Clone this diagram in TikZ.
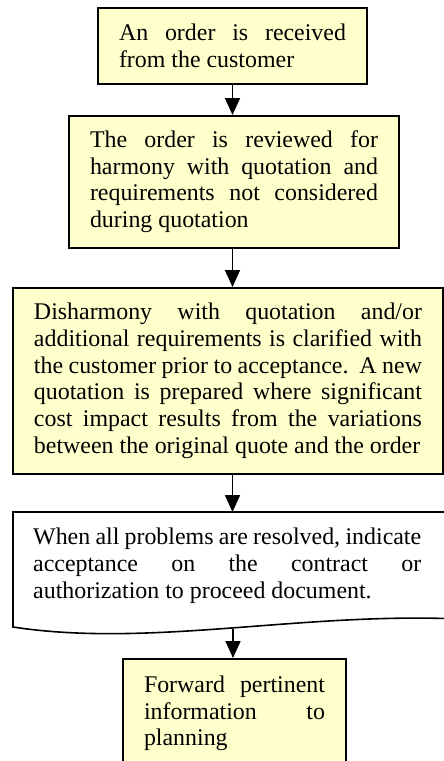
\documentclass[tikz,border=0pt]{standalone}
\usepackage{fontspec}
\setmainfont{Liberation Serif}
\usetikzlibrary{arrows.meta}
\definecolor{boxfill}{HTML}{FFFFCC}

\tolerance=10000
\hyphenpenalty=10000

\tikzset{
  flowtext/.style={align=justify, font=\fontsize{23.9}{26.7}\selectfont,
    inner xsep=21pt},
  flowbox/.style={flowtext, draw=black, line width=1.6pt, fill=boxfill,
    inner ysep=0pt, anchor=north},
  flowarrow/.style={line width=1.8pt, -{Triangle[width=15pt,length=17pt]}},
  docline/.style={draw=black, line width=1.6pt, fill=white}
}

\begin{document}
\begin{tikzpicture}[x=1pt, y=-1pt]
  \useasboundingbox (0,0) rectangle (444,761);
  \clip (0,0) rectangle (444,761);

  % process steps
  \node[flowbox, text width=227pt, minimum height=76pt] (b1) at (232.5,7)
    {An order is received\linebreak from the customer};
  \node[flowbox, text width=288pt, minimum height=132pt] (b2) at (234,115)
    {The order is reviewed for\linebreak harmony with quotation and\linebreak
     requirements not considered\linebreak during quotation};
  \node[flowbox, text width=388pt, minimum height=186pt] (b3) at (228,287)
    {Disharmony with quotation and/or\linebreak additional requirements is clarified with\linebreak
     the customer prior to acceptance.\ \ A new\linebreak quotation is prepared where significant\linebreak
     cost impact results from the variations\linebreak between the original quote and the order};

  % document shape with wavy lower edge
  \path[docline] (13,627) -- (13,512) -- (470,512) -- (470,619)
    -- (460,619) .. controls (300,612) and (150,648) .. (13,627) -- cycle;
  \node[flowtext, anchor=north west, inner ysep=16pt, text width=388pt] (doc) at (12,512)
    {When all problems are resolved, indicate\linebreak acceptance on the contract or\linebreak
     authorization to proceed document.};
  \coordinate (docbot) at (233,629);

  \node[flowbox, text width=181pt, inner ysep=17pt] (b5) at (234.5,658)
    {Forward pertinent\linebreak information to\linebreak planning};

  % connectors
  \draw[flowarrow] (b1.south) -- (b1.south |- b2.north);
  \draw[flowarrow] (b2.south -| b1.south) -- (b1.south |- b3.north);
  \draw[flowarrow] (b3.south -| b1.south) -- (b1.south |- 0,512);
  \draw[flowarrow] (docbot) -- (docbot |- b5.north);
\end{tikzpicture}
\end{document}
